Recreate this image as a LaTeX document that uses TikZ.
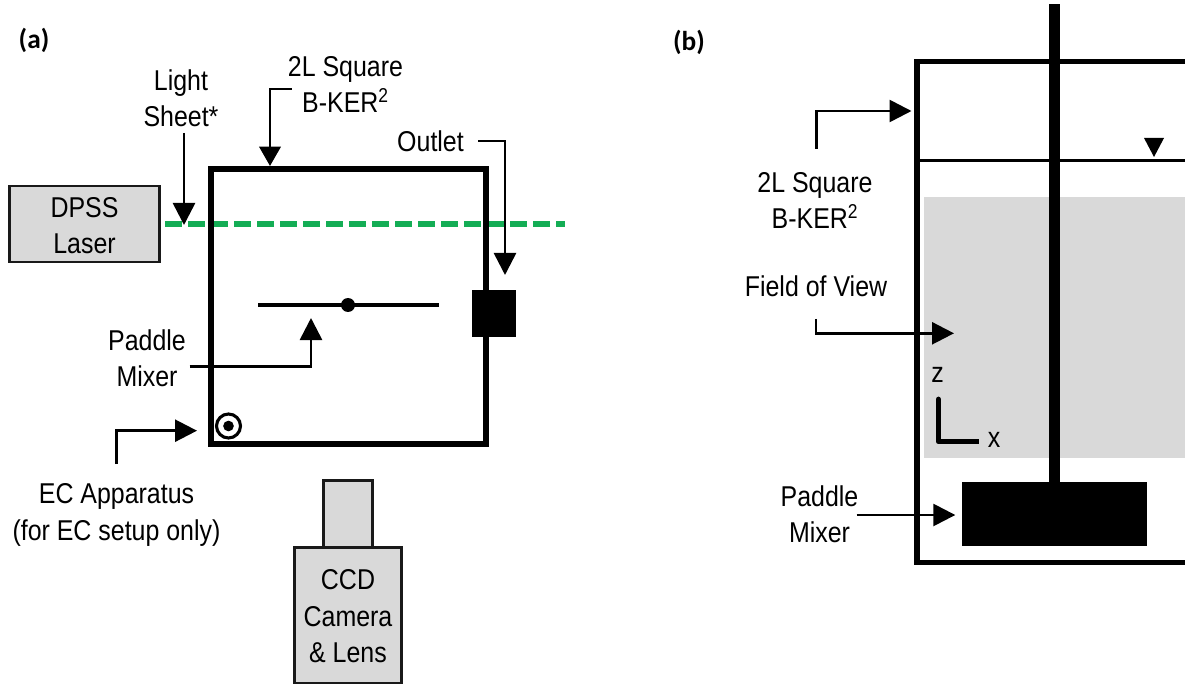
\documentclass[tikz,border=0pt]{standalone}
\usepackage{fontspec}
\setmainfont[FakeStretch=0.87]{Liberation Sans}
\newfontfamily\labfont{Carlito}
\usetikzlibrary{arrows.meta}
\definecolor{boxgray}{HTML}{D9D9D9}
\definecolor{beam}{HTML}{14AD55}
\tikzset{
  txt/.style={inner sep=0pt,anchor=base,align=center,font=\fontsize{21.5}{27.4}\selectfont},
  panel/.style={inner sep=0pt,font=\fontsize{20.5}{24}\selectfont\labfont\bfseries},
  callout/.style={draw=black,line width=1.95pt,-{Triangle[length=16.5pt,width=16.5pt]}},
  calloutshort/.style={draw=black,line width=1.95pt,-{Triangle[length=14.5pt,width=16pt]}},
  wall/.style={draw=black,line width=4.1pt},
  grayrect/.style={draw=black!90,line width=2pt,fill=boxgray,inner sep=0pt},
  solid black/.style={fill=black,draw=none,inner sep=0pt},
}
\begin{document}
\begin{tikzpicture}[x=0.75pt,y=-0.75pt]
\useasboundingbox (0,0) rectangle (1185,684);
% ---------- panel (a)
\node[panel] (la) at (34,40) {(a)};
\coordinate (beamL) at (165,224); \coordinate (beamR) at (565,224);
\draw[draw=beam,line width=4.5pt,dash pattern=on 13pt off 4.25pt] (beamL) -- (beamR);
\draw[wall,line join=miter] (211,169) rectangle (486,444);
\node[grayrect,minimum width=112.5pt,minimum height=57pt] (laser) at (84.5,224) {};
\node[txt] (laserT) at (84.5,254) {DPSS\\Laser};
\node[grayrect,minimum width=37pt,minimum height=50pt] (lens) at (348,513.5) {};
\node[grayrect,minimum width=80pt,minimum height=102pt] (cam) at (348,615.5) {};
\node[txt] (camT) at (348,662.7) {CCD\\Camera\\\& Lens};
\coordinate (padL) at (258,305); \coordinate (padR) at (439,305);
\draw[line width=2.3pt] (padL) -- (padR);
\node[circle,solid black,minimum size=10.5pt] (hub) at (348,305) {};
\node[solid black,minimum width=33pt,minimum height=35pt] (outlet) at (493.5,313.5) {};
\node[circle,draw=black,line width=2.3pt,fill=white,minimum size=18pt,inner sep=0pt] (ecO) at (228.5,426) {};
\node[circle,solid black,minimum size=8pt] (ecI) at (228.5,426) {};
\node[txt] (lsT) at (181,127) {Light\\Sheet*};
\node[txt] (bkT) at (345.5,113) {2L Square\\B-KER\textsuperscript{2}};
\node[txt] (outT) at (430.5,152) {Outlet};
\node[txt] (pmT) at (147,386.7) {Paddle\\Mixer};
\node[txt] (ecT) at (116.5,540) {EC Apparatus\\(for EC setup only)};
\coordinate (a1) at (184,133); \coordinate (a1t) at (184,225);
\draw[callout] (a1) -- (a1t);
\coordinate (a2) at (291.5,89); \coordinate (a2t) at (270,166);
\draw[calloutshort] (a2) -| (a2t);
\coordinate (a3) at (478,141); \coordinate (a3t) at (505,275);
\draw[callout] (a3) -| (a3t);
\coordinate (a4) at (189.5,366.7); \coordinate (a4t) at (311,318);
\draw[callout] (a4) -| (a4t);
\coordinate (a5) at (116.7,464); \coordinate (a5t) at (197,430.7);
\draw[callout] (a5) |- (a5t);
% ---------- panel (b)
\node[panel] (lb) at (689,42) {(b)};
\fill[boxgray] (924,196.7) rectangle (1185,458);
\coordinate (tTR) at (1185,61.5); \coordinate (tTL) at (917,61.5);
\coordinate (tBL) at (917,562.5); \coordinate (tBR) at (1185,562.5);
\draw[wall,line join=miter] (tTR) -- (tTL) -- (tBL) -- (tBR);
\coordinate (wL) at (917,160.3); \coordinate (wR) at (1185,160.3);
\draw[line width=1.9pt] (wL) -- (wR);
\fill (1144,138) -- (1164,138) -- (1154,157) -- cycle;
\node[solid black,minimum width=138.75pt,minimum height=47.75pt] (paddle) at (1054.2,514.2) {};
\coordinate (sT) at (1054.5,4.3);
\draw[line width=8.2pt] (sT) -- (paddle.north -| sT);
\coordinate (axO) at (938.3,441.7); \coordinate (axZ) at (938.3,399.3); \coordinate (axX) at (979,441.7);
\draw[line width=4pt,line join=round] (axZ) -- (axO) -- (axX);
\draw[line width=4pt,line cap=round] (axZ) -- ++(0,2);
\node[txt] (zT) at (937.7,382.7) {z};
\node[txt] (xT) at (994,447.7) {x};
\node[txt] (bk2T) at (815,229) {2L Square\\B-KER\textsuperscript{2}};
\node[txt] (fovT) at (816,296.7) {Field of View};
\node[txt] (pm2T) at (819.5,542.7) {Paddle\\Mixer};
\coordinate (b1) at (816.5,149); \coordinate (b1t) at (911.5,111);
\draw[callout] (b1) |- (b1t);
\coordinate (b2) at (816,319); \coordinate (b2t) at (954,333.3);
\draw[callout] (b2) |- (b2t);
\coordinate (b3) at (856.7,515); \coordinate (b3t) at (955.3,515);
\draw[callout] (b3) -- (b3t);
\end{tikzpicture}
\end{document}
